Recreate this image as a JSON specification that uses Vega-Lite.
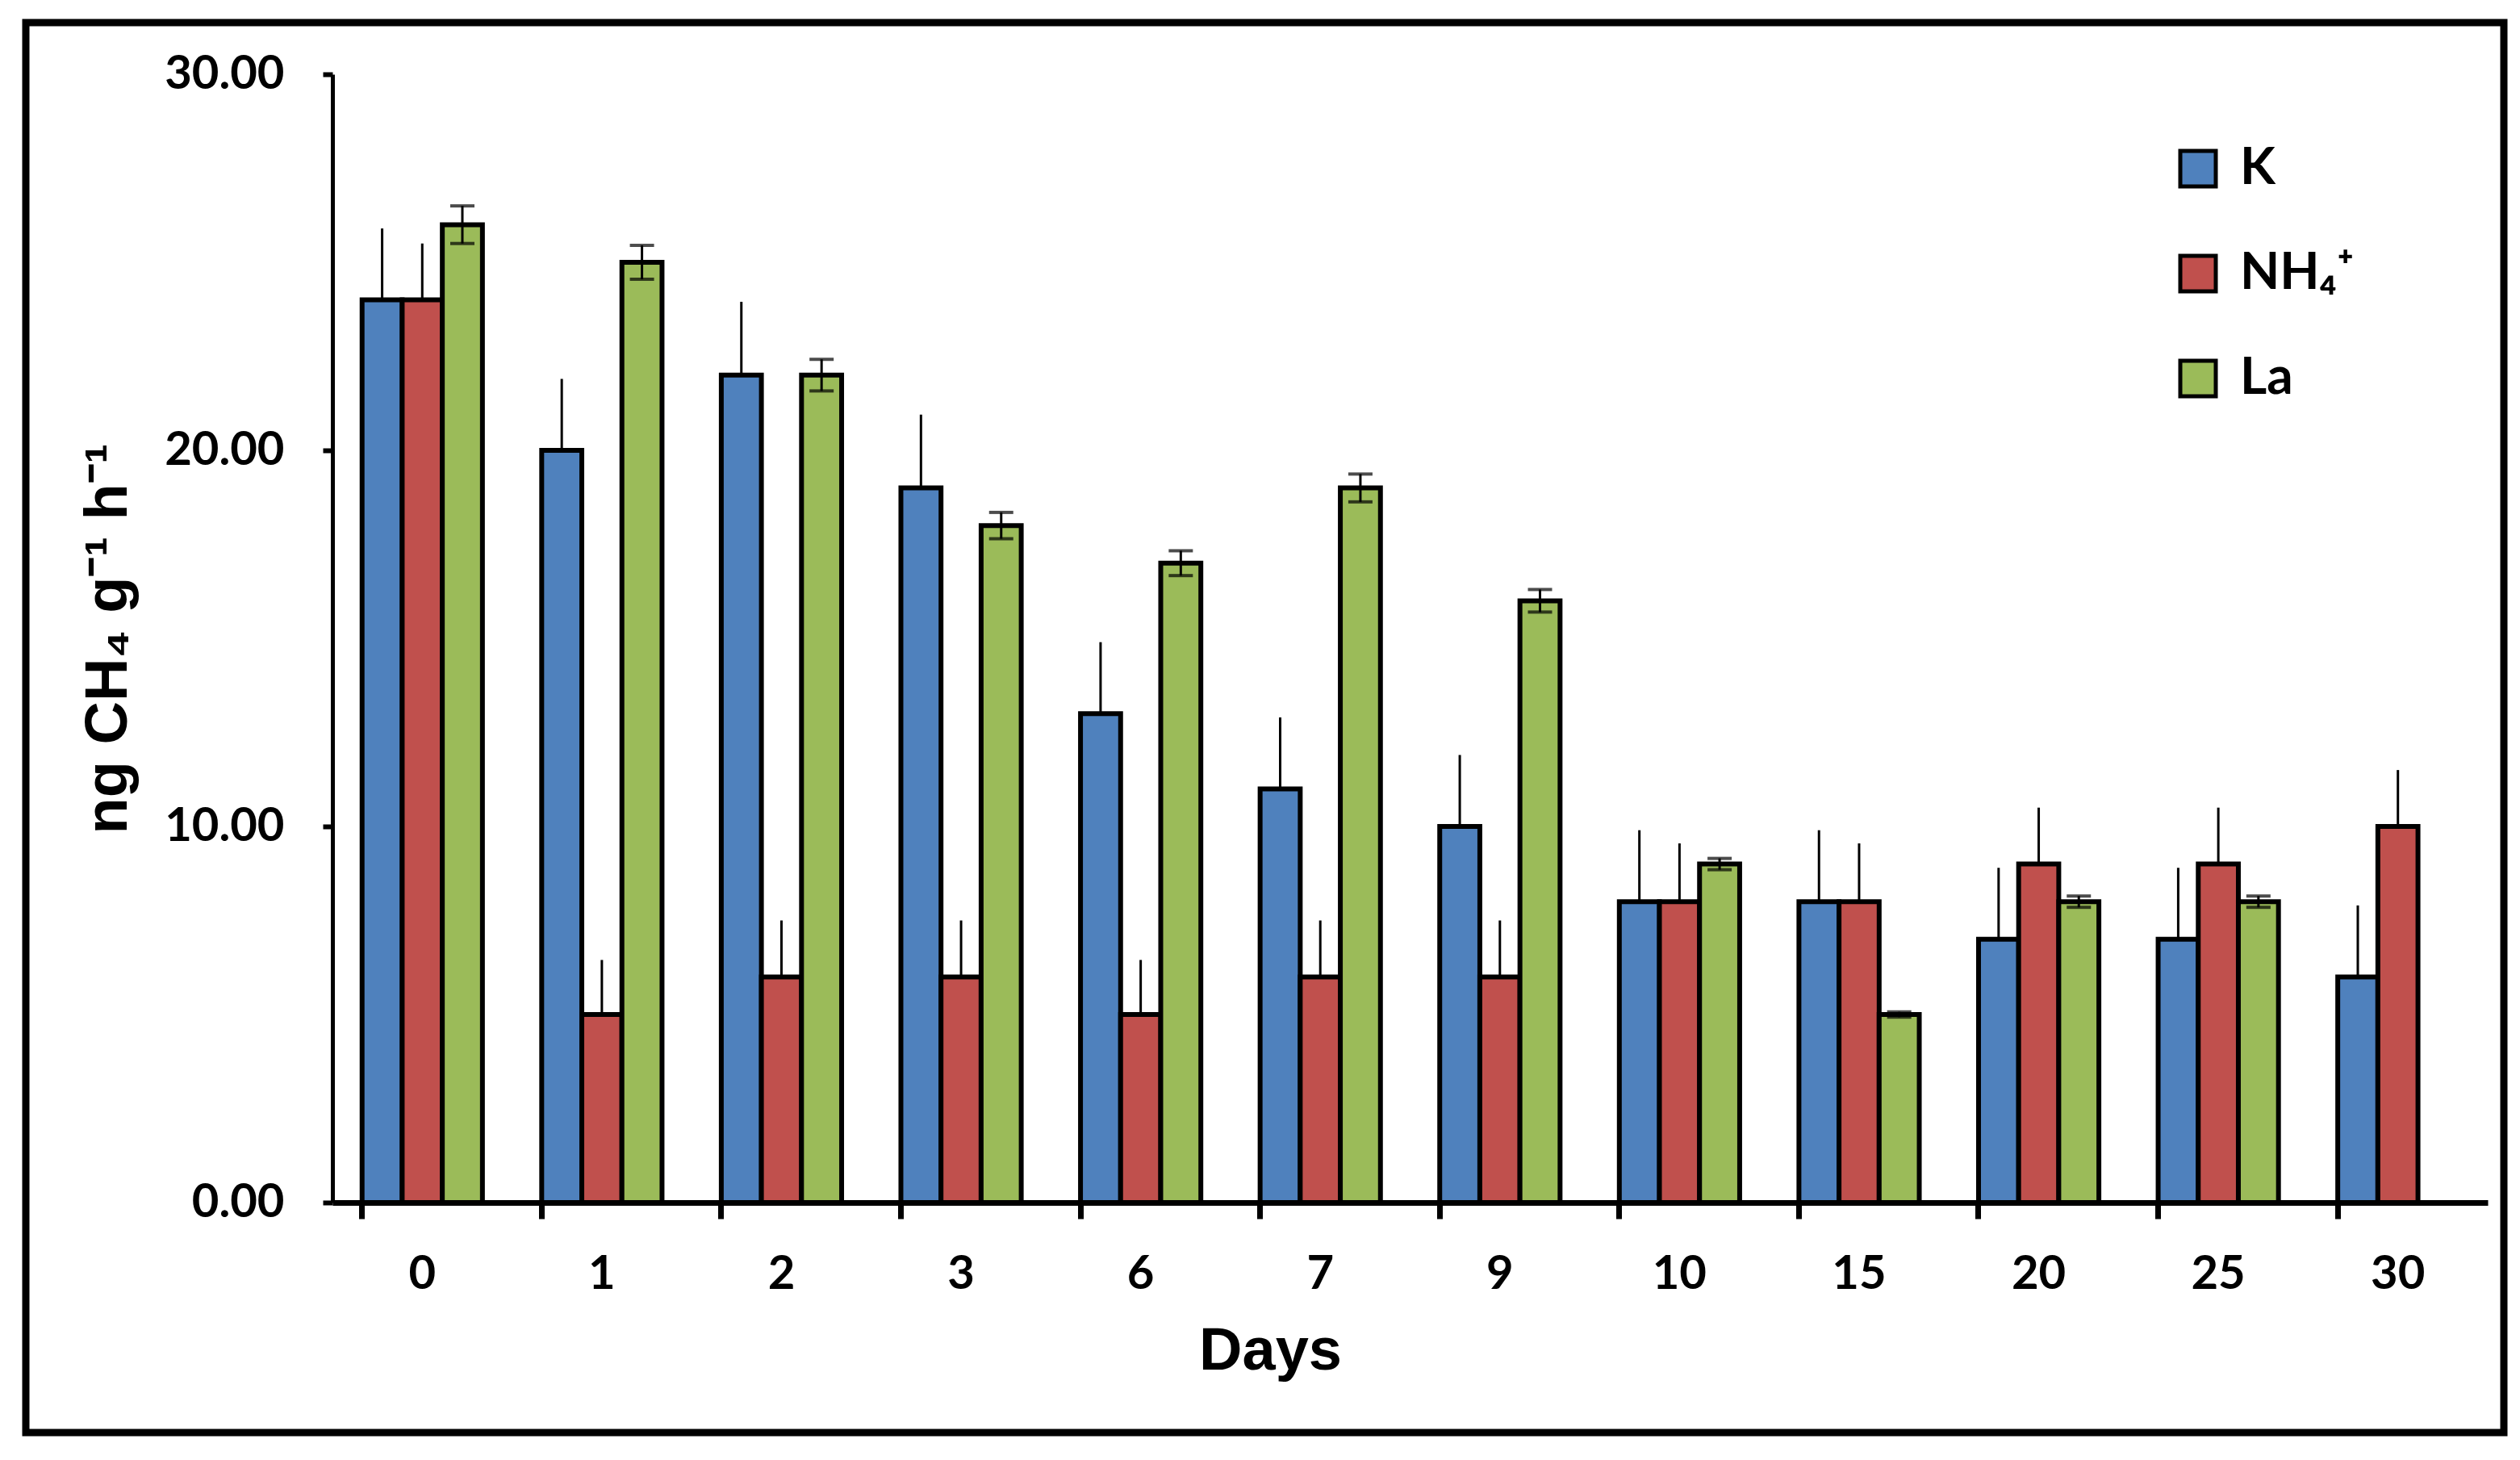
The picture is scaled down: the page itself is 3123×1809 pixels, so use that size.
{
  "$schema": "https://vega.github.io/schema/vega-lite/v6.json",
  "width": 3071,
  "height": 1747,
  "autosize": {"type": "none"},
  "padding": {"left": 32, "top": 28, "right": 20, "bottom": 34},
  "background": "white",
  "config": {
    "view": {"stroke": "black", "strokeWidth": 9},
    "axis": {"grid": false}
  },
  "data": {
    "values": [
      {"day": "0", "series": "K", "value": 24, "lo": 24, "hi": 25.9},
      {"day": "0", "series": "NH₄⁺", "value": 24, "lo": 24, "hi": 25.5},
      {"day": "0", "series": "La", "value": 26, "lo": 25.5, "hi": 26.5},
      {"day": "1", "series": "K", "value": 20, "lo": 20, "hi": 21.9},
      {"day": "1", "series": "NH₄⁺", "value": 5, "lo": 5, "hi": 6.45},
      {"day": "1", "series": "La", "value": 25, "lo": 24.55, "hi": 25.45},
      {"day": "2", "series": "K", "value": 22, "lo": 22, "hi": 23.95},
      {"day": "2", "series": "NH₄⁺", "value": 6, "lo": 6, "hi": 7.5},
      {"day": "2", "series": "La", "value": 22, "lo": 21.58, "hi": 22.42},
      {"day": "3", "series": "K", "value": 19, "lo": 19, "hi": 20.95},
      {"day": "3", "series": "NH₄⁺", "value": 6, "lo": 6, "hi": 7.5},
      {"day": "3", "series": "La", "value": 18, "lo": 17.65, "hi": 18.35},
      {"day": "6", "series": "K", "value": 13, "lo": 13, "hi": 14.9},
      {"day": "6", "series": "NH₄⁺", "value": 5, "lo": 5, "hi": 6.45},
      {"day": "6", "series": "La", "value": 17, "lo": 16.67, "hi": 17.33},
      {"day": "7", "series": "K", "value": 11, "lo": 11, "hi": 12.9},
      {"day": "7", "series": "NH₄⁺", "value": 6, "lo": 6, "hi": 7.5},
      {"day": "7", "series": "La", "value": 19, "lo": 18.63, "hi": 19.37},
      {"day": "9", "series": "K", "value": 10, "lo": 10, "hi": 11.9},
      {"day": "9", "series": "NH₄⁺", "value": 6, "lo": 6, "hi": 7.5},
      {"day": "9", "series": "La", "value": 16, "lo": 15.7, "hi": 16.3},
      {"day": "10", "series": "K", "value": 8, "lo": 8, "hi": 9.9},
      {"day": "10", "series": "NH₄⁺", "value": 8, "lo": 8, "hi": 9.55},
      {"day": "10", "series": "La", "value": 9, "lo": 8.85, "hi": 9.15},
      {"day": "15", "series": "K", "value": 8, "lo": 8, "hi": 9.9},
      {"day": "15", "series": "NH₄⁺", "value": 8, "lo": 8, "hi": 9.55},
      {"day": "15", "series": "La", "value": 5, "lo": 4.93, "hi": 5.07},
      {"day": "20", "series": "K", "value": 7, "lo": 7, "hi": 8.9},
      {"day": "20", "series": "NH₄⁺", "value": 9, "lo": 9, "hi": 10.5},
      {"day": "20", "series": "La", "value": 8, "lo": 7.85, "hi": 8.15},
      {"day": "25", "series": "K", "value": 7, "lo": 7, "hi": 8.9},
      {"day": "25", "series": "NH₄⁺", "value": 9, "lo": 9, "hi": 10.5},
      {"day": "25", "series": "La", "value": 8, "lo": 7.85, "hi": 8.15},
      {"day": "30", "series": "K", "value": 6, "lo": 6, "hi": 7.9},
      {"day": "30", "series": "NH₄⁺", "value": 10, "lo": 10, "hi": 11.5}
    ]
  },
  "encoding": {
    "x": {
      "field": "day",
      "type": "nominal",
      "sort": ["0", "1", "2", "3", "6", "7", "9", "10", "15", "20", "25", "30"],
      "scale": {"range": [380, 3051], "paddingInner": 0.33, "paddingOuter": 0.165},
      "axis": {
        "title": "Days",
        "titleFont": "Liberation Sans",
        "titleFontSize": 74,
        "titleFontWeight": "bold",
        "titleColor": "black",
        "titlePadding": 30,
        "titleX": 1542,
        "labelFont": "Lato",
        "labelFontSize": 58,
        "labelFontWeight": "bold",
        "labelColor": "black",
        "labelPadding": 40,
        "labelAngle": 0,
        "tickSize": 20,
        "tickWidth": 7,
        "tickColor": "black",
        "domainWidth": 7,
        "domainColor": "black",
        "bandPosition": 0,
        "offset": -285
      }
    },
    "xOffset": {
      "field": "series",
      "type": "nominal",
      "sort": ["K", "NH₄⁺", "La"],
      "scale": {"paddingInner": 0, "paddingOuter": 0}
    },
    "y": {
      "field": "value",
      "type": "quantitative",
      "title": "ng CH₄ g⁻¹ h⁻¹",
      "scale": {"domain": [0, 30], "range": [1462, 64], "nice": false},
      "axis": {
        "values": [0, 10, 20, 30],
        "format": ".2f",
        "labelFont": "Lato",
        "labelFontSize": 58,
        "labelFontWeight": "bold",
        "labelColor": "black",
        "labelPadding": 48,
        "tickSize": 12,
        "tickWidth": 6,
        "tickColor": "black",
        "domainWidth": 5,
        "domainColor": "black",
        "offset": -380,
        "titleFont": "Liberation Sans",
        "titleFontSize": 74,
        "titleFontWeight": "bold",
        "titleColor": "black",
        "titlePadding": 40
      }
    }
  },
  "layer": [
    {
      "mark": {"type": "bar", "stroke": "black", "strokeWidth": 6},
      "encoding": {
        "color": {
          "field": "series",
          "type": "nominal",
          "scale": {"domain": ["K", "NH₄⁺", "La"], "range": ["#4F81BD", "#C0504D", "#9BBB59"]},
          "legend": {
            "orient": "none",
            "legendX": 2660,
            "legendY": 149,
            "title": null,
            "padding": 0,
            "symbolType": "square",
            "symbolSize": 1936,
            "symbolStrokeColor": "black",
            "symbolStrokeWidth": 5,
            "symbolOpacity": 1,
            "labelFont": "Lato",
            "labelFontSize": 64,
            "labelFontWeight": "bold",
            "labelColor": "black",
            "labelOffset": 20,
            "rowPadding": 66
          }
        }
      }
    },
    {
      "mark": {"type": "rule", "color": "black", "strokeWidth": 3},
      "encoding": {
        "y": {"field": "lo", "type": "quantitative", "title": "ng CH₄ g⁻¹ h⁻¹", "scale": {"domain": [0, 30], "range": [1462, 64], "nice": false}},
        "y2": {"field": "hi"}
      }
    },
    {
      "transform": [{"filter": "datum.series == 'La'"}],
      "mark": {"type": "tick", "color": "black", "thickness": 4, "size": 30},
      "encoding": {
        "y": {"field": "lo", "type": "quantitative", "title": "ng CH₄ g⁻¹ h⁻¹", "scale": {"domain": [0, 30], "range": [1462, 64], "nice": false}}
      }
    },
    {
      "transform": [{"filter": "datum.series == 'La'"}],
      "mark": {"type": "tick", "color": "black", "thickness": 4, "size": 30},
      "encoding": {
        "y": {"field": "hi", "type": "quantitative", "title": "ng CH₄ g⁻¹ h⁻¹", "scale": {"domain": [0, 30], "range": [1462, 64], "nice": false}}
      }
    }
  ]
}
